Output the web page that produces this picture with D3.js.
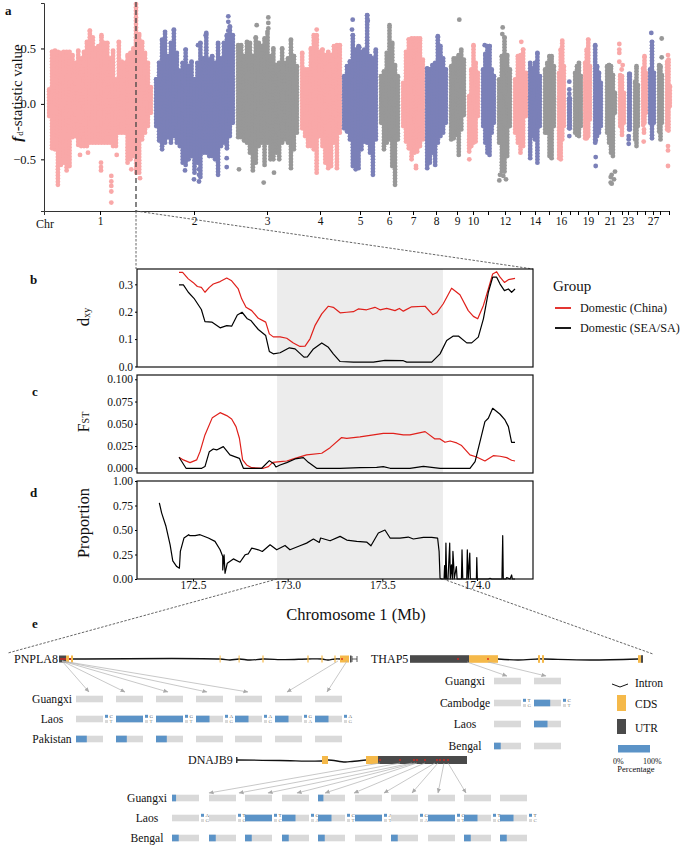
<!DOCTYPE html>
<html><head><meta charset="utf-8">
<script src="https://cdn.jsdelivr.net/npm/d3@7"></script>
<style>html,body{margin:0;background:#fff}svg{display:block}text{font-family:"Liberation Serif",serif;fill:#111}</style>
</head><body><svg id="c" width="685" height="845"></svg>
<script>
// ---- panel a : fd-statistic envelope per chromosome (hundredths of fd) ----
const chrNames=[1,2,3,4,5,6,7,8,9,10,11,12,13,14,15,16,17,18,19,20,21,22,23,24,26,27,28,29];
const chrShown=[1,2,3,4,5,6,7,8,9,10,12,14,16,19,21,23,27];
const chrStart=[3,110,192,256,298,335,357,381,405,423,437,453,469,484,499,513,523,529,539,549,561,574,583,589,597,604,613,621];
const chrEnd=[109,191,255,298,334,356,381,404,422,436,452,468,484,498,512,522,528,539,548,559,573,582,588,596,604,612,620,628];
const chrTick=[56,150,223,276,316,345,369,392,413,429,444,461,476,491,505,517,526,534,544,554,566,578,584,593,601,609,616,625];
const chrHi=[
[13,47,48,47,46,47,47,47,44,37,48,41,47,56,66,60,50,52,62,55,55,41,48,22,56,38,37,44,46,50,63,63,56,46,37,15],
[22,37,58,65,43,55,67,46,30,37,49,34,38,22,37,55,41,64,40,43,37,55,41,55,62,70,62],
[53,53,43,56,55,43,60,55,52,59,65,43,50,35,37,50,37,41,58,43,34],
[46,31,31,50,62,62,47,49,44,47,44,52,53,53],
[25,34,38,62,49,52,47,49,80,43,41,49],
[25,29,46,71,55,35,25],[19,47,58,59,59,59,59,40],[32,31,35,37,61,52,41,31],[34,41,41,44,49,40],[7,31,53,37,28],
[31,45,52,52,31,25],[22,43,60,44,31],[22,43,44,49,28],[37,32,37,46,25],[31,37,43,43,34],[28,49,57,34],[5,5],
[28,34,37,25],[37,49,58,34],[53,34,28,19],[34,35,34,26,10],[26,25,10],[27,27],[20,34,17],[32,43,28],[31,56,28],[35,34,26],[38,40,16]];
const chrLo=[
[-11,-40,-41,-73,-55,-53,-60,-56,-30,-29,-37,-38,-38,-38,-35,-35,-35,-35,-35,-35,-35,-35,-38,-38,-26,-26,-26,-53,-50,-47,-62,-62,-32,-26,-20,-8],
[-20,-33,-41,-35,-30,-35,-29,-35,-38,-53,-55,-50,-47,-62,-53,-66,-44,-44,-47,-47,-50,-64,-38,-35,-40,-29,-17],
[-30,-30,-33,-35,-44,-60,-53,-38,-35,-55,-35,-50,-50,-44,-50,-35,-32,-35,-58,-41,-26],
[-22,-29,-38,-38,-41,-62,-29,-38,-53,-58,-56,-35,-58,-26],
[-22,-25,-32,-56,-59,-58,-41,-34,-35,-44,-64,-32],
[-17,-41,-35,-32,-56,-73,-32],[-20,-34,-40,-50,-44,-43,-38,-32],[-58,-53,-44,-55,-35,-29,-26,-17],[-32,-31,-28,-46,-23,-10],[-43,-38,-35,-34,-11],
[-20,-35,-44,-46,-26,-17],[-35,-61,-61,-47,-20],[-26,-35,-44,-38,-11],[-49,-29,-32,-53,-20],[-26,-26,-47,-49,-20],[-49,-50,-32,-20],[-22,-22],
[-26,-28,-29,-20],[-31,-31,-29,-14],[-35,-29,-26,-20],[-26,-35,-44,-47,-8],[-20,-28,-17],[-23,-23],[-32,-38,-20],[-19,-17,-8],[-17,-31,-17],[-25,-32,-17],[-23,-24,-2]];
const outliers=[[92,.9],[92,.87],[92,.84],[92,.81],[92,.78],[92,.75],[92,.72],[92,.69],[92,.66],[92,.63],[92,.6],[92,.57],[92,.54],[92,.51],
[67.3,-.89],[67.3,-.79],[67.3,-.74],[67.3,-.70],[67.3,-.65],[57,-.53],[57,-.57],[57,-.6],[36,-.46],[44,-.44],[72.7,-.46],[87.3,-.59],[96,-.67],
[141,-.6],[150,-.68],[155,-.7],[155,-.64],[155,-.59],[182.7,-.49],[182.7,-.57],[184.3,.79],[184.3,.74],[184.3,.66],[161.7,.62],[154,.53],
[195,-.59],[219.7,-.71],[230,-.62],[212.7,.71],[224.3,.78],[224.3,.73],[224.3,.68],[213,.55],[272.7,.67],[272.7,.58],
[308.7,.76],[308,.67],[323.7,.75],[315.3,.51],[331.7,.47],[372,-.56],[372,-.58],[415.3,.76],[425.3,-.5],[440.7,.53],
[455.3,-.69],[456,-.64],[462,-.68],[459.3,-.65],[458.7,.69],[458.3,.63],[477.3,.56],[525.3,.2],[525.3,.13],[525.3,.09],[525.3,-.29],
[551.7,-.48],[551.7,-.56],[551.7,-.33],[571,-.61],[567.7,-.64],[570,-.68],[566.7,-.66],[567.7,-.72],[566.7,-.71],
[575.3,.54],[575.3,.49],[575.3,.46],[575.3,.38],[578.7,.35],[577.7,.31],[584.7,-.29],[584.7,-.32],[584.7,-.36],[600,-.23],[600,-.26],[599.7,-.34],
[607.3,.64],[617.7,.59],[617.7,.42],[624,.44],[624,-.38],[624,-.42],[624,-.56]];
const chrColors=["#f9a8a8","#7b80b8","#989898"];
const fdTicks=[-.5,0,.5];

// ---- panels b,c,d : [Mb, value] ----
const dxyChina=[[172.426,.344],[172.445,.344],[172.475,.32],[172.5,.307],[172.523,.292],[172.544,.289],[172.563,.271],[172.586,.289],[172.607,.301],[172.643,.31],[172.678,.323],[172.704,.313],[172.739,.283],[172.757,.247],[172.78,.216],[172.81,.204],[172.845,.176],[172.884,.162],[172.903,.119],[172.924,.108],[172.96,.108],[172.995,.103],[173.03,.086],[173.065,.073],[173.092,.074],[173.118,.101],[173.144,.149],[173.18,.192],[173.215,.22],[173.241,.216],[173.277,.196],[173.312,.198],[173.347,.2],[173.373,.21],[173.417,.207],[173.461,.216],[173.488,.207],[173.523,.212],[173.567,.204],[173.59,.212],[173.611,.202],[173.655,.218],[173.726,.22],[173.766,.189],[173.787,.196],[173.822,.229],[173.866,.286],[173.91,.262],[173.954,.204],[173.981,.183],[174.004,.174],[174.034,.223],[174.06,.283],[174.083,.338],[174.104,.346],[174.122,.326],[174.145,.307],[174.166,.317],[174.201,.322]];
const dxySea=[[172.426,.298],[172.449,.298],[172.475,.271],[172.505,.249],[172.544,.208],[172.563,.164],[172.599,.162],[172.643,.141],[172.678,.149],[172.704,.147],[172.734,.188],[172.759,.198],[172.787,.174],[172.805,.168],[172.845,.135],[172.884,.113],[172.903,.055],[172.924,.046],[172.96,.05],[173.009,.068],[173.039,.064],[173.086,.034],[173.104,.035],[173.136,.064],[173.18,.086],[173.215,.07],[173.241,.046],[173.277,.018],[173.347,.016],[173.453,.016],[173.514,.022],[173.611,.021],[173.629,.016],[173.761,.016],[173.805,.046],[173.84,.095],[173.875,.111],[173.902,.111],[173.946,.086],[173.972,.086],[174.007,.107],[174.034,.174],[174.06,.271],[174.083,.326],[174.104,.326],[174.122,.301],[174.145,.277],[174.166,.283],[174.183,.271],[174.201,.283]];
const fstChina=[[172.426,.0124],[172.449,.0094],[172.484,.0064],[172.519,.0094],[172.537,.0187],[172.563,.0375],[172.602,.0569],[172.643,.0625],[172.678,.0592],[172.704,.0554],[172.727,.0468],[172.745,.0337],[172.762,.0094],[172.783,.0037],[172.81,.0007],[172.872,0],[172.898,.0019],[172.921,.0067],[172.96,.0075],[172.995,.0082],[173.03,.0105],[173.1,.015],[173.18,.0169],[173.224,.0232],[173.285,.0345],[173.312,.0337],[173.382,.0352],[173.453,.0375],[173.505,.0393],[173.558,.0393],[173.611,.0375],[173.646,.0375],[173.726,.0412],[173.778,.033],[173.805,.033],[173.831,.0292],[173.858,.0307],[173.893,.0285],[173.919,.0255],[173.963,.015],[173.998,.0127],[174.042,.0082],[174.086,.0142],[174.122,.0135],[174.157,.012],[174.183,.009],[174.201,.0082]];
const fstSea=[[172.426,.0124],[172.463,0],[172.546,0],[172.563,.0019],[172.586,.0187],[172.607,.0217],[172.625,.0206],[172.66,.0243],[172.695,.015],[172.745,.0112],[172.766,0],[172.863,0],[172.903,.0086],[172.928,.0049],[172.938,.0015],[172.96,.0037],[172.995,.0064],[173.039,.0105],[173.083,.012],[173.109,.0067],[173.153,0],[173.277,0],[173.382,.0007],[173.47,.0011],[173.505,.0019],[173.541,0],[173.646,0],[173.717,.0022],[173.805,0],[173.963,0],[173.99,.0075],[174.016,.03],[174.042,.0524],[174.06,.0562],[174.083,.0674],[174.122,.0607],[174.148,.0543],[174.166,.0468],[174.183,.0292],[174.201,.0292]];
const propLine=[[172.322,.777],[172.334,.675],[172.357,.538],[172.379,.349],[172.393,.185],[172.414,.127],[172.428,.11],[172.433,.281],[172.452,.418],[172.477,.452],[172.484,.442],[172.511,.442],[172.537,.452],[172.581,.418],[172.616,.384],[172.643,.298],[172.657,.229],[172.657,.092],[172.664,.247],[172.669,.058],[172.681,.161],[172.713,.205],[172.748,.171],[172.775,.247],[172.792,.257],[172.81,.315],[172.845,.298],[172.866,.281],[172.907,.349],[172.942,.298],[172.986,.342],[173.012,.298],[173.065,.339],[173.1,.366],[173.136,.408],[173.167,.373],[173.174,.418],[173.224,.39],[173.277,.435],[173.312,.397],[173.365,.384],[173.417,.377],[173.44,.339],[173.479,.469],[173.514,.5],[173.541,.418],[173.593,.418],[173.637,.428],[173.664,.408],[173.717,.425],[173.761,.425],[173.792,.418],[173.8,.281],[173.805,.007],
[173.814,0],[173.826,0],[173.829,.137],[173.833,0],[173.836,.366],[173.84,0],[173.847,0],[173.856,.366],[173.859,0],[173.865,.144],[173.87,0],[173.873,.281],[173.877,.144],[173.88,0],[173.891,.127],[173.895,0],[173.918,0],[173.921,.298],[173.925,0],[173.946,0],[173.949,.298],[173.954,0],[173.962,.264],[173.965,0],[173.997,0],[173.999,.219],[174.002,0],[174.06,0],[174.069,.007],[174.078,0],[174.132,0],[174.136,.442],[174.139,0],[174.153,0],[174.157,.014],[174.175,0],[174.183,.041],[174.187,0],[174.201,0]];
const shadeMb=[172.944,173.82];
const mbTicks=[172.5,173,173.5,174];
const dxyTicks=[0,.1,.2,.3], fstTicks=[0,.025,.05,.075,.1], propTicks=[0,.25,.5,.75,1];
const legendNames=["Domestic (China)","Domestic (SEA/SA)"], legendColors=["#e0201b","#000"];

// ---- panel e : schematic positions along each gene ----
const pnUtr=[[59,66],[350,351.5]], pnCds=[[66,69],[71,73],[219.6,220.6],[238.6,239.6],[262.4,263.6],[307.4,308.6],[321.4,322.6],[334.4,335.6],[340,349]];
const pnIntron=[[69,0],[220,0],[230,1],[239,0],[250,1],[263,0],[285,.6],[308,0],[322,0],[328,1],[335,0],[340,0]];
const pnRed=[61,63,65,70,342];
const pnFrom=[62,62,62,62,62,338,347], pnTo=[89,125,168,207,248,287,327];
const pnRows=["Guangxi","Laos","Pakistan"], pnBars=[76,116,156,196,235,275,315];
const pnPct=[[0,0,0,0,0,0,0],[0,100,100,50,50,50,50],[40,40,40,0,0,0,0]];
const pnAlleles=["C T","G T","G T","A G","A G","G A","A G"];
const thUtr=[[410,469],[641,643]], thCds=[[469,498],[538,540],[542,544],[638,641]];
const thIntron=[[498,0],[518,1],[538,0],[544,0],[590,1],[638,0]];
const thRed=[458,488], thFrom=[467,488], thTo=[507,546];
const thRows=["Guangxi","Cambodge","Laos","Bengal"], thBars=[494,534];
const thPct=[[0,0],[0,60],[0,50],[25,0]];
const thAlleles=["T G","C T"];
const djUtr=[[378,467]], djCds=[[322,328],[366,378]];
const djIntron=[[237,0],[280,.5],[322,1],[328,0],[345,2],[352,1.5],[366,0]];
const djRed=[380,400,414,417,425,437,440,444,448];
const djFrom=[380,400,412,415,417,425,435,438,444,448], djTo=[209,239,268,297,325,354,384,412,438,466];
const djRows=["Guangxi","Laos","Bengal"], djBars=[172,209,245,282,318,355,391,428,464,500];
const djPct=[[15,0,0,0,20,0,0,0,0,0],[0,0,100,50,50,100,0,100,50,50],[25,25,25,25,25,0,25,0,25,25]];
const djAlleles=["A G","T G","T C","G A","C T","A T","G A","C T","T C","T C"];
const geneLegend=["Intron","CDS","UTR"];

const svg=d3.select("#c");
const txt=(x,y,s,size,anchor="start",extra={})=>{const t=svg.append("text").attr("x",x).attr("y",y).attr("font-size",size).attr("text-anchor",anchor).attr("dominant-baseline","central").text(s);
  for(const k in extra)t.attr(k,extra[k]);return t;};
[["a",5,10],["b",30,279],["c",32,391],["d",30,492],["e",32,623]].forEach(d=>txt(d[1],d[2],d[0],13,"start",{"font-weight":"bold"}));

// Panel a
const xG=d3.scaleLinear().domain([0,625]).range([44,669]);
const yF=d3.scaleLinear().domain([-.966,.91]).range([211,3]);
const gA=svg.append("g");
const pts=[];
chrNames.forEach((n,i)=>{
  const hi=chrHi[i],lo=chrLo[i],a=chrStart[i]+2.2,b=Math.max(chrEnd[i]-2.2,a+.5);
  hi.forEach((h,j)=>{const p=a+(b-a)*j/(hi.length-1);
    for(const v of d3.range(lo[j]/100,h/100+.001,.028))pts.push({p,v,c:i%3});
    pts.push({p,v:h/100,c:i%3});});
});
outliers.forEach(o=>{const i=chrNames.findIndex((n,k)=>o[0]>=chrStart[k]-1&&o[0]<=chrEnd[k]+1);pts.push({p:o[0],v:o[1],c:Math.max(i,0)%3});});
gA.selectAll("circle").data(pts).join("circle").attr("cx",d=>xG(d.p)).attr("cy",d=>yF(d.v)).attr("r",2.4).attr("fill",d=>chrColors[d.c]);
const axA=svg.append("g").attr("transform","translate(44,0)").call(d3.axisLeft(yF).tickValues(fdTicks).tickSize(3).tickFormat(d3.format(".1f")));
axA.selectAll("text").attr("font-size",12.5).attr("dx",-2).text(d=>d3.format(".1f")(d));
const axB=svg.append("g").attr("transform","translate(0,211)").call(d3.axisBottom(xG).tickValues(chrTick).tickSize(4).tickFormat((d,i)=>chrShown.includes(chrNames[i])?chrNames[i]:""));
axB.selectAll("text").attr("font-size",11.5).attr("dy",7);
svg.selectAll(".domain").attr("stroke","#333");
txt(36,224,"Chr",12);
const fdLab=svg.append("text").attr("transform","translate(17,93) rotate(-90)").attr("text-anchor","middle").attr("dominant-baseline","central").attr("font-size",15);
fdLab.append("tspan").attr("font-style","italic").attr("font-weight","bold").text("f");
fdLab.append("tspan").attr("font-size",9).attr("dy",3).attr("dx",1).text("d");
fdLab.append("tspan").attr("dy",-3).text("-statistic value");

// connectors
const dash=(x1,y1,x2,y2,c="#555",w=.9,da="2.5 1.5")=>svg.append("line").attr("x1",x1).attr("y1",y1).attr("x2",x2).attr("y2",y2).attr("stroke",c).attr("stroke-width",w).attr("stroke-dasharray",da);
dash(136,2,136,211,"#444",1.3,"5 3");dash(136,211,136,269);dash(136,211,533,269);

// Panels
const xM=d3.scaleLinear().domain([172.204,174.296]).range([137,533]);
const panels=[
 {t:269,b:367,dom:[-.002,.356],ticks:dxyTicks,fmt:".1f",series:[[dxyChina,0],[dxySea,1]]},
 {t:375,b:473,dom:[-.0053,.1048],ticks:fstTicks,fmt:".3f",series:[[fstChina,0],[fstSea,1]]},
 {t:481,b:579,dom:[0,1],ticks:propTicks,fmt:".2f",series:[[propLine,1]]}];
panels.forEach((p,i)=>{
  const y=d3.scaleLinear().domain(p.dom).range([p.b,p.t]);
  svg.append("rect").attr("x",xM(shadeMb[0])).attr("y",p.t).attr("width",xM(shadeMb[1])-xM(shadeMb[0])).attr("height",p.b-p.t).attr("fill","#ececec");
  const line=d3.line().x(d=>xM(d[0])).y(d=>y(d[1]));
  p.series.forEach(s=>svg.append("path").attr("d",line(s[0])).attr("fill","none").attr("stroke",legendColors[s[1]]).attr("stroke-width",1.2).attr("stroke-linejoin","round"));
  svg.append("rect").attr("x",137).attr("y",p.t).attr("width",396).attr("height",p.b-p.t).attr("fill","none").attr("stroke","#111").attr("stroke-width",1.2);
  const ax=svg.append("g").attr("transform","translate(137,0)").call(d3.axisLeft(y).tickValues(p.ticks).tickSize(2).tickFormat(d3.format(p.fmt)));
  ax.select(".domain").remove();ax.selectAll("text").attr("font-size",11.5).attr("dx",1);
  if(i==2){const b=svg.append("g").attr("transform","translate(0,579)").call(d3.axisBottom(xM).tickValues(mbTicks).tickSize(2).tickFormat(d3.format(".1f")));
    b.select(".domain").remove();b.selectAll("text").attr("font-size",11.5).attr("dy",5);}
});
const rot=(x,y)=>svg.append("text").attr("transform",`translate(${x},${y}) rotate(-90)`).attr("text-anchor","middle").attr("dominant-baseline","central");
const dl=rot(83,317).attr("font-size",17);dl.append("tspan").text("d");dl.append("tspan").attr("font-size",10).attr("dy",3).text("xy");
const fl=rot(83,422).attr("font-size",16);fl.append("tspan").text("F");fl.append("tspan").attr("font-size",10).attr("dy",2).text("ST");
rot(83,523).attr("font-size",16.4).text("Proportion");
txt(356,614,"Chromosome 1 (Mb)",16.5,"middle");
dash(xM(shadeMb[0]),579,8,653);dash(xM(shadeMb[1]),579,653,654);
txt(553,286,"Group",15);
legendNames.forEach((n,i)=>{const y=308+i*20;
  svg.append("line").attr("x1",555).attr("x2",571).attr("y1",y).attr("y2",y).attr("stroke",legendColors[i]).attr("stroke-width",1.8);
  txt(580,y,n,12.2);});

// Panel e
const xS=d3.scaleLinear().domain([0,685]).range([0,685]);
const defs=svg.append("defs");
defs.append("marker").attr("id","ah").attr("viewBox","0 0 6 6").attr("refX",5.5).attr("refY",3).attr("markerWidth",5).attr("markerHeight",5).attr("markerUnits","userSpaceOnUse").attr("orient","auto")
  .append("path").attr("d","M0,0.5L6,3L0,5.5Z").attr("fill","#aaa");
const cOr="#f5b94a",cDk="#4a4a4a",cBl="#5b93c7",cGr="#d9d9d9";
function gene(name,labelX,labelAnchor,y,h,utr,cds,intron,red,from,to,yFrom,yTo){
  txt(labelX,y,name,12,labelAnchor);
  const l=d3.line().x(d=>xS(d[0])).y(d=>y+d[1]).curve(d3.curveCatmullRom);
  svg.append("path").attr("d",l(intron)).attr("fill","none").attr("stroke","#111").attr("stroke-width",1.3);
  const r=(a,c)=>svg.append("g").selectAll("rect").data(a).join("rect").attr("x",d=>xS(d[0])).attr("width",d=>xS(d[1])-xS(d[0])).attr("y",y-h).attr("height",2*h).attr("fill",c);
  r(utr,cDk);r(cds,cOr);
  svg.append("g").selectAll("circle").data(red).join("circle").attr("cx",d=>xS(d)).attr("cy",y).attr("r",.9).attr("fill","#e0201b");
  svg.append("g").selectAll("line").data(from).join("line").attr("x1",d=>xS(d)).attr("y1",yFrom).attr("x2",(d,i)=>xS(to[i])).attr("y2",yTo)
    .attr("stroke","#b0b0b0").attr("stroke-width",.7).attr("marker-end","url(#ah)");
}
function rows(names,labelX,ys,bars,pct,alleles,alleleRow){
  names.forEach((n,i)=>{
    txt(labelX,ys[i],n,11.6,"middle");
    bars.forEach((b,j)=>{
      svg.append("rect").attr("x",xS(b)).attr("y",ys[i]-3.3).attr("width",27).attr("height",6.6).attr("fill",cGr);
      svg.append("rect").attr("x",xS(b)).attr("y",ys[i]-3.3).attr("width",27*pct[i][j]/100).attr("height",6.6).attr("fill",cBl);
      if(i==alleleRow){const [a1,a2]=alleles[j].split(" "),ax=b+29;
        svg.append("rect").attr("x",xS(ax)).attr("y",ys[i]-4.2).attr("width",3).attr("height",3).attr("fill",cBl);
        svg.append("rect").attr("x",xS(ax)).attr("y",ys[i]+1).attr("width",3).attr("height",3).attr("fill",cGr);
        txt(ax+4.5,ys[i]-2.7,a1,5,"start",{style:"fill:#555"});
        txt(ax+4.5,ys[i]+2.5,a2,5,"start",{style:"fill:#888"});}
    });
  });
}
gene("PNPLA8",14,"start",659,3.5,pnUtr,pnCds,pnIntron,pnRed,pnFrom,pnTo,661,692);
svg.append("path").attr("d",`M${xS(352)},656V662M${xS(352)},659H${xS(357)}M${xS(357)},656V662`).attr("stroke","#333").attr("stroke-width",.8).attr("fill","none");
rows(pnRows,52,[699,719,739],pnBars,pnPct,pnAlleles,1);
gene("THAP5",371,"start",659,3.8,thUtr,thCds,thIntron,thRed,thFrom,thTo,662,676);
rows(thRows,465,[681,703,724,746],thBars,thPct,thAlleles,1);
gene("DNAJB9",188,"start",760,4,djUtr,djCds,djIntron,djRed,djFrom,djTo,763,793);
svg.append("rect").attr("x",xS(236)).attr("y",757).attr("width",1.5).attr("height",6).attr("fill","#333");
rows(djRows,147,[798,818,838],djBars,djPct,djAlleles,1);

svg.append("path").attr("d",`M${xS(612)},684L${xS(620)},687L${xS(628)},684`).attr("fill","none").attr("stroke","#111").attr("stroke-width",1);
svg.append("rect").attr("x",617).attr("y",695).attr("width",9).attr("height",16).attr("fill",cOr);
svg.append("rect").attr("x",617).attr("y",719).attr("width",9).attr("height",15).attr("fill",cDk);
svg.append("rect").attr("x",618).attr("y",745).attr("width",32).attr("height",7.5).attr("fill",cBl);
[683,704,728].forEach((y,i)=>txt(635,y,geneLegend[i],11.5));
txt(613,761,"0%",8);txt(643,761,"100%",8);txt(636,769,"Percentage",8.5,"middle");
</script></body></html>
